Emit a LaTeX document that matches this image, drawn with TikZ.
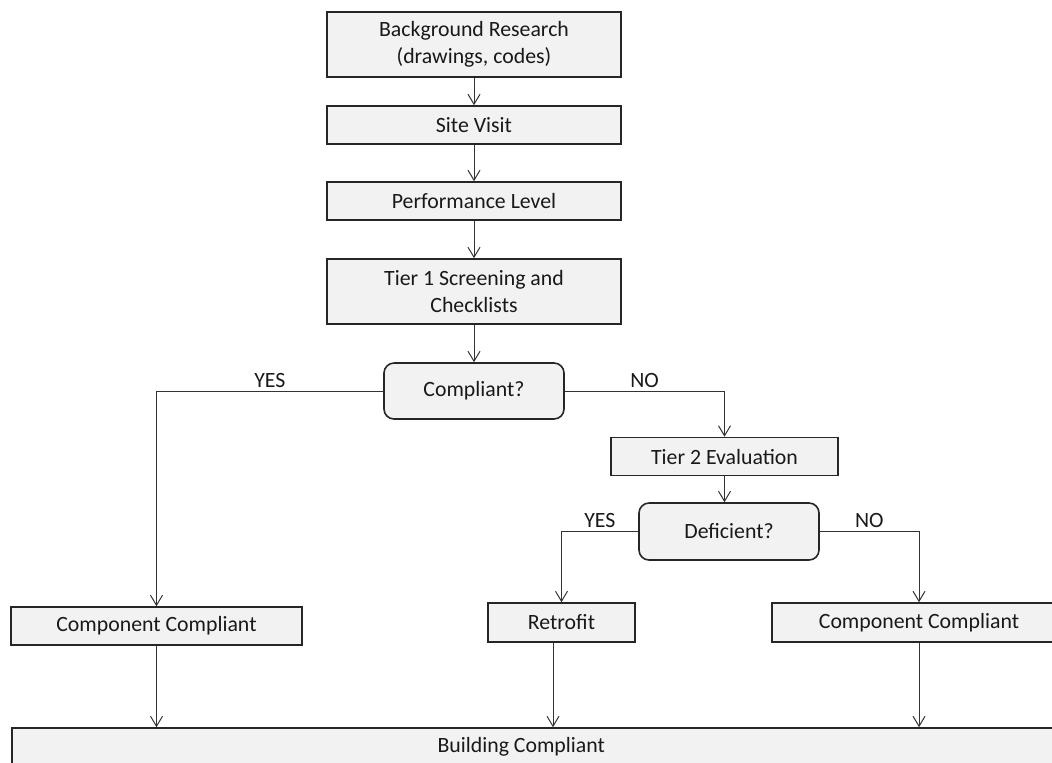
\documentclass[tikz,border=0pt]{standalone}
\usepackage{fontspec}
\setmainfont{Carlito}
\usetikzlibrary{arrows.meta}

\begin{document}
\begin{tikzpicture}[x=0.5pt,y=-0.5pt,->,>={Straight Barb[length=5pt,width=6pt]},
                    font=\fontsize{10.9}{13.3}\selectfont,line width=0.5pt,draw=black!80]
  \tikzstyle{box}=[draw=black!85,fill=black!5,line width=0.8pt,align=center,
                   minimum height=19pt,inner sep=2pt,text=black!90]
  \tikzstyle{query}=[box,rounded corners=5pt,minimum width=90pt,minimum height=28pt]
  \tikzstyle{answer}=[above,inner sep=1.5pt,text=black!90]

  \useasboundingbox (0,0) rectangle (1052,762);
  \clip (0,0) rectangle (1052,762);

  \node[box,minimum width=147pt,minimum height=32.5pt] (research) at (474,44.5) {Background Research\\(drawings, codes)};
  \node[box,minimum width=147pt] (visit) at (474,125) {Site Visit};
  \node[box,minimum width=147pt] (level) at (474,201) {Performance Level};
  \node[box,minimum width=147pt,minimum height=32.5pt] (tier1) at (474,291.5) {Tier 1 Screening and\\Checklists};
  \node[query] (compliant) at (474,391) {Compliant?};
  \node[box,minimum width=113.5pt] (tier2) at (724.5,456.5) {Tier 2 Evaluation};
  \node[query,minimum height=28.5pt] (deficient) at (729,531.5) {Deficient?};
  \node[box,minimum width=145.5pt] (compA) at (156.5,626) {Component Compliant};
  \node[box,minimum width=73.5pt,minimum height=19.5pt] (retrofit) at (561.5,622.5) {Retrofit};
  \node[box,minimum width=147pt,minimum height=19.5pt] (compB) at (919,622.5) {Component Compliant};
  \node[box,anchor=west,inner xsep=0pt] (building) at (11,747) {\makebox[509.5pt]{Building Compliant}\hspace{40pt}};

  \path (research) edge (visit)
        (visit) edge (level)
        (level) edge (tier1)
        (tier1) edge (compliant)
        (tier2.south) edge (tier2.south |- deficient.north)
        (compA) edge (compA |- building.north)
        ([xshift=-4.25pt]retrofit.south) edge ([xshift=-4.25pt]retrofit.south |- building.north)
        (compB) edge (compB |- building.north);

  \draw (compliant.west) -| node[answer,pos=0.25] {YES} (compA.north);
  \draw (compliant.east) -| node[answer,pos=0.25] {NO} (tier2.north);
  \draw (deficient.west) -| node[answer,pos=0.25] {YES} (retrofit.north);
  \draw (deficient.east) -| node[answer,pos=0.25] {NO} (compB.north);
\end{tikzpicture}
\end{document}
